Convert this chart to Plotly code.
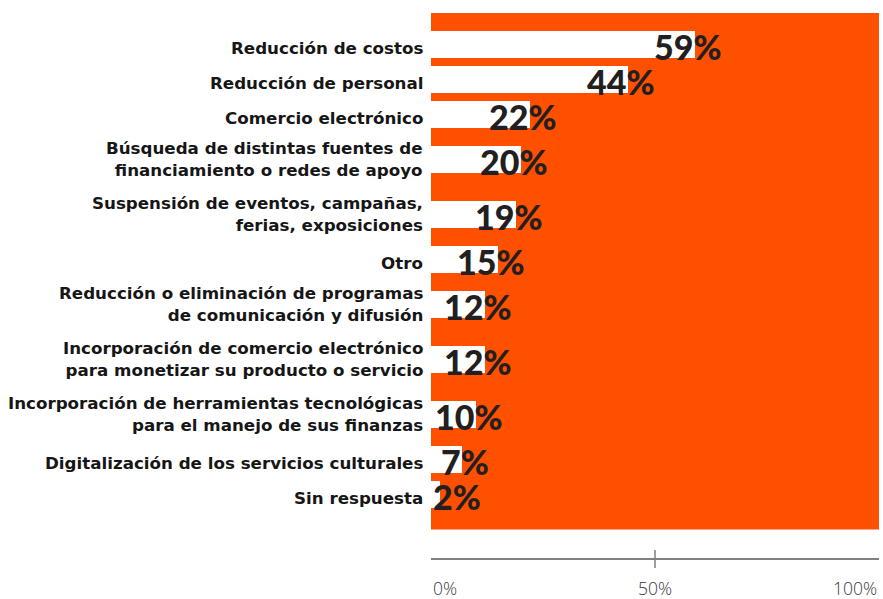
import plotly.graph_objects as go

# Acciones tomadas (porcentaje de respuestas)
labels = [
    "Reducción de costos",
    "Reducción de personal",
    "Comercio electrónico",
    "Búsqueda de distintas fuentes de<br>financiamiento o redes de apoyo",
    "Suspensión de eventos, campañas,<br>ferias, exposiciones",
    "Otro",
    "Reducción o eliminación de programas<br>de comunicación y difusión",
    "Incorporación de comercio electrónico<br>para monetizar su producto o servicio",
    "Incorporación de herramientas tecnológicas<br>para el manejo de sus finanzas",
    "Digitalización de los servicios culturales",
    "Sin respuesta",
]
values = [59, 44, 22, 20, 19, 15, 12, 12, 10, 7, 2]
x_ticks = [0, 50, 100]
x_tick_text = ["0%", "50%", "100%"]

ORANGE = "#FF5000"
INK = "#161616"
AXIS_GREY = "#808080"

WIDTH, HEIGHT = 883, 599
M_L, M_R, M_T, M_B = 431, 4, 13, 41
PX_PER_UNIT = (WIDTH - M_L - M_R) / (x_ticks[-1] - x_ticks[0])

# Row heights depend on how many lines the category label uses
ROW_H = {1: 35, 2: 55}
LABEL_SHIFT = {1: -3, 2: 1}
PAD_TOP, PAD_BOTTOM, AXIS_GAP = 14, 17.5, 28.5
BAR_W = 27

VALUE_FONT = dict(family="Lato", size=34, color="#231f20", weight=900)
PCT_W, DIGIT_W = 29, 20   # approximate glyph widths of the value font

n_lines = [len(lbl.split("<br>")) for lbl in labels]
centers = []
cursor = 0.0
for n in n_lines:
    centers.append(cursor + ROW_H[n] / 2)
    cursor += ROW_H[n]
band_bottom = cursor + PAD_BOTTOM

fig = go.Figure()
fig.add_trace(go.Bar(
    x=values,
    y=centers,
    orientation="h",
    width=BAR_W,
    marker=dict(color="white", line=dict(width=0)),
    hoverinfo="skip",
    showlegend=False,
))

shapes = [
    # orange band behind the bars
    dict(type="rect", xref="paper", x0=0, x1=1, yref="y",
         y0=-PAD_TOP, y1=band_bottom, fillcolor=ORANGE,
         line=dict(width=0), layer="below"),
]
# tick mark crossing the axis line at the middle value
for t in x_ticks[1:-1]:
    shapes.append(dict(type="line", xref="x", x0=t, x1=t, yref="paper",
                       ysizemode="pixel", yanchor=0, y0=-10, y1=8,
                       line=dict(color=AXIS_GREY, width=1.5)))

annotations = []
# category labels, right-aligned next to the band
for c, lbl, n in zip(centers, labels, n_lines):
    annotations.append(dict(
        x=0, xref="paper", xanchor="right", xshift=-6,
        y=c, yref="y", yanchor="middle", yshift=LABEL_SHIFT[n],
        align="right", text=lbl, showarrow=False,
        font=dict(family="DejaVu Sans", size=16.7, color=INK, weight=700),
    ))
# value labels: digits end at the bar end, the % sign sits past it;
# labels that would spill left of the band start at its left edge
for c, v in zip(centers, values):
    txt = f"{v}%"
    est_w = DIGIT_W * len(str(v)) + PCT_W
    if v * PX_PER_UNIT + PCT_W - est_w < 0:
        pos = dict(x=0, xanchor="left", xshift=0)
    else:
        pos = dict(x=v, xanchor="right", xshift=PCT_W)
    annotations.append(dict(
        **pos, xref="x",
        y=c, yref="y", yanchor="middle", yshift=-2,
        text=txt, showarrow=False, font=VALUE_FONT,
    ))
# x tick labels: first left-aligned, last right-aligned
anchors = ["left"] + ["center"] * (len(x_ticks) - 2) + ["right"]
for t, txt, a in zip(x_ticks, x_tick_text, anchors):
    annotations.append(dict(
        x=t, xref="x", xanchor=a, y=0, yref="paper", yanchor="middle",
        yshift=-30, text=txt, showarrow=False,
        font=dict(family="Open Sans", size=17.5, color="#3a3a3a", weight=300),
    ))

fig.update_layout(
    width=WIDTH, height=HEIGHT,
    margin=dict(l=M_L, r=M_R, t=M_T, b=M_B),
    paper_bgcolor="white",
    plot_bgcolor="white",
    bargap=0,
    shapes=shapes,
    annotations=annotations,
    xaxis=dict(range=[x_ticks[0], x_ticks[-1]], showgrid=False,
               zeroline=False, showticklabels=False, ticks="",
               showline=True, linecolor=AXIS_GREY, linewidth=1.5,
               fixedrange=True),
    yaxis=dict(range=[band_bottom + AXIS_GAP, -PAD_TOP], showgrid=False,
               zeroline=False, showticklabels=False, ticks="",
               showline=False, fixedrange=True),
)

fig.write_html("out.html")
